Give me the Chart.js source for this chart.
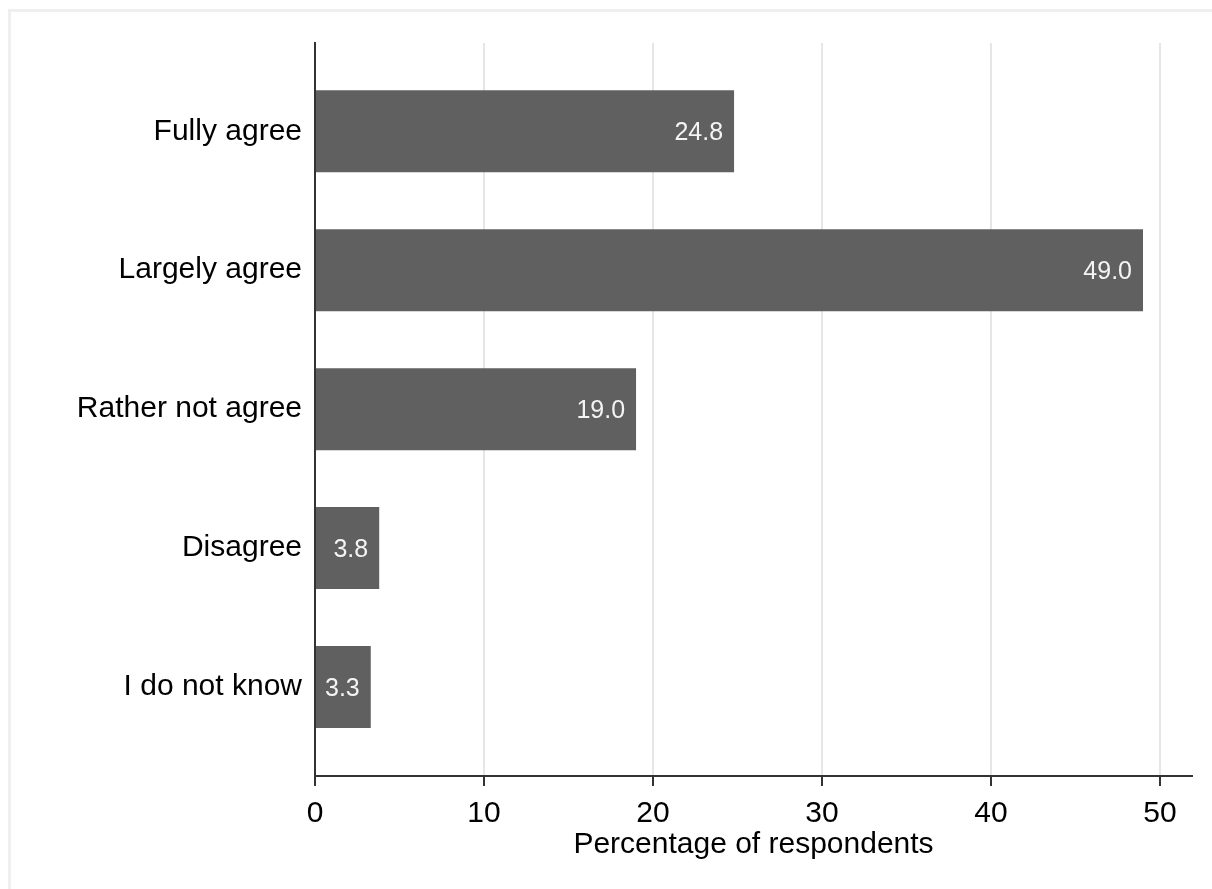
<!DOCTYPE html>
<html>
<head>
<meta charset="utf-8">
<title>Percentage of respondents</title>
<script src="https://cdn.jsdelivr.net/npm/chart.js@4.4.1/dist/chart.umd.min.js"></script>
<style>
  html, body { margin: 0; padding: 0; background: #fff; }
  #wrap { position: relative; width: 1212px; height: 889px; overflow: hidden; }
  #frame {
    position: absolute; left: 8px; top: 9px; width: 1300px; height: 1000px;
    border-top: 3px solid #efefef; border-left: 3px solid #efefef;
  }
  #chart { position: absolute; left: 0; top: 0; }
</style>
</head>
<body>
<div id="wrap">
  <div id="frame"></div>
  <canvas id="chart" width="1212" height="889"></canvas>
</div>
<script>
// answer categories, top to bottom
var categories = ['Fully agree', 'Largely agree', 'Rather not agree', 'Disagree', 'I do not know'];
// share of respondents (%)
var percentages = [24.8, 49.0, 19.0, 3.8, 3.3];
// x axis tick values
var xTicks = [0, 10, 20, 30, 40, 50];

var FONT = "'Liberation Sans', Arial, sans-serif";
var AXIS = '#333333';

document.addEventListener('DOMContentLoaded', function() {
    var ctx = document.getElementById('chart').getContext('2d');

    // white value labels at the inner end of each bar
    var valueLabels = {
        id: 'valueLabels',
        afterDatasetsDraw: function(chart) {
            var c = chart.ctx;
            var meta = chart.getDatasetMeta(0);
            c.save();
            c.fillStyle = '#f4f4f4';
            c.font = '300 25px ' + FONT;
            c.textAlign = 'right';
            c.textBaseline = 'middle';
            meta.data.forEach(function(bar, i) {
                c.fillText(percentages[i].toFixed(1), bar.x - 11, bar.y + 2);
            });
            c.restore();
        }
    };

    new Chart(ctx, {
        type: 'bar',
        data: {
            datasets: [{
                data: percentages.map(function(v, i) { return { x: v, y: i }; }),
                backgroundColor: '#606060',
                borderWidth: 0,
                barPercentage: 0.59,
                categoryPercentage: 1
            }]
        },
        options: {
            indexAxis: 'y',
            responsive: false,
            animation: false,
            layout: { padding: { top: 43, right: 20, left: 0, bottom: 0 } },
            plugins: {
                legend: { display: false },
                tooltip: { enabled: false }
            },
            scales: {
                x: {
                    type: 'linear',
                    min: 0,
                    max: 51.9,
                    afterBuildTicks: function(scale) {
                        scale.ticks = xTicks.map(function(v) { return { value: v }; });
                    },
                    afterFit: function(scale) { scale.height = 113; },
                    grid: {
                        color: function(c) { return c.tick && c.tick.value === 0 ? 'rgba(0,0,0,0)' : '#e6e6e6'; },
                        lineWidth: 2,
                        tickColor: AXIS,
                        tickLength: 10,
                        tickWidth: 2
                    },
                    border: { color: AXIS, width: 2 },
                    ticks: {
                        color: '#000',
                        font: { family: FONT, size: 30 },
                        padding: 10,
                        maxRotation: 0
                    },
                    title: {
                        display: true,
                        text: 'Percentage of respondents',
                        color: '#000',
                        font: { family: FONT, size: 30 },
                        padding: { top: 0, bottom: 26 }
                    }
                },
                y: {
                    type: 'linear',
                    reverse: true,
                    offset: false,
                    min: -0.635,
                    max: 4.64,
                    afterBuildTicks: function(scale) {
                        scale.ticks = categories.map(function(c, i) { return { value: i }; });
                    },
                    afterFit: function(scale) { scale.width = 315; },
                    grid: { display: false, drawTicks: false, offset: false },
                    border: { color: AXIS, width: 2 },
                    ticks: {
                        color: '#000',
                        font: { family: FONT, size: 30 },
                        padding: 13,
                        callback: function(v) { return categories[v] || ''; }
                    }
                }
            }
        },
        plugins: [valueLabels]
    });
});
</script>
</body>
</html>
